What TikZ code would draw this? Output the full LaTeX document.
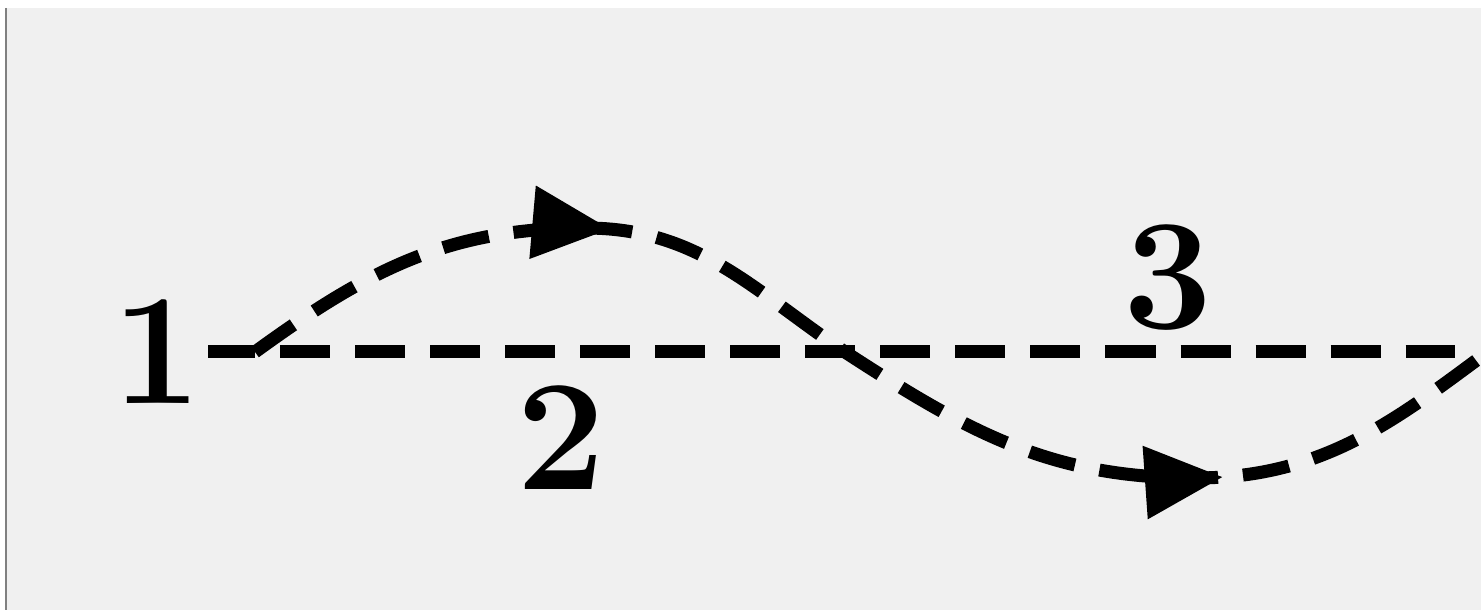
\documentclass[tikz,border=0pt]{standalone}
\usepackage{tikz}
\usetikzlibrary{arrows.meta,decorations.markings}
\definecolor{paper}{gray}{0.94}
\tikzset{
  lbl/.style  ={font=\fontsize{45}{54}\selectfont\bfseries, inner sep=0.06cm},
  thick line/.style ={line width=0.13cm, line cap=butt},
  dline/.style={thick line, dash pattern=on 0.5cm off 0.25cm, dash phase=0.5cm},
  bigtip/.tip ={Triangle[length=0.78cm, width=0.7cm]},
  wave/.style ={thick line, dash pattern=on 0.47cm off 0.25cm,
                postaction={decorate},
                decoration={markings,
                  mark=at position 3.85cm with {\arrow{bigtip}},
                  mark=at position 10.6cm with {\arrow{bigtip}}}},
}
\begin{document}
\begin{tikzpicture}[x=0.01cm, y=-0.01cm]

\useasboundingbox (0,0) rectangle (1481,610);
\clip (0,0) rectangle (1481,610);
\fill[white] (0,0) rectangle (1481,610);
\fill[paper] (6,8) rectangle (1481,610);
\draw[gray, line width=0.6pt] (6,8) -- (6,610);

\node[lbl] (n1) at (157,352) {1};
\node[lbl] (n2) at (561,438) {2};
\node[lbl] (n3) at (1168,278) {3};

\coordinate (s) at (255,352);
\coordinate (h) at (1455,352);
\coordinate (p) at (585,228);
\coordinate (c) at (845,352);
\coordinate (t) at (1195,478);
\coordinate (e) at (1540,314);

\draw[thick line] (n1.east) -- (s);
\draw[dline] (s) -- (h);
\draw[wave] (s) to[out=36,in=180] (p) to[out=0,in=146] (c)
  to[out=-33,in=180] (t) to[out=0,in=215] (e);

\end{tikzpicture}
\end{document}
